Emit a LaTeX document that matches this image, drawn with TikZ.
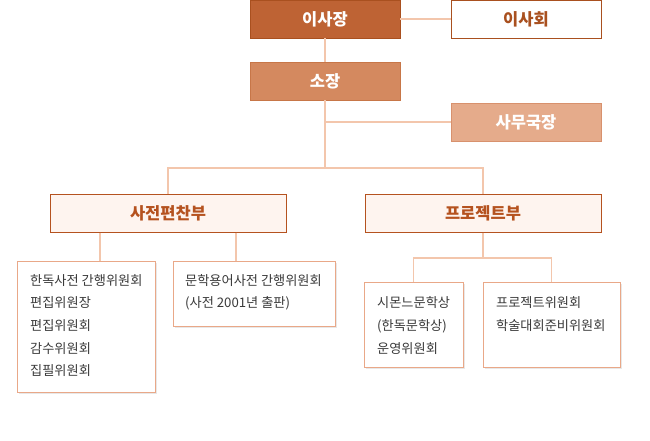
\documentclass[tikz,border=0pt]{standalone}
\usepackage{fontspec}
\setmainfont{Noto Sans CJK KR}
\usetikzlibrary{shadows}
\definecolor{chaircol}{HTML}{BE6334}
\definecolor{chairline}{HTML}{A9501F}
\definecolor{headcol}{HTML}{D4895F}
\definecolor{headline}{HTML}{C77648}
\definecolor{officecol}{HTML}{E5AB8B}
\definecolor{officeline}{HTML}{D8916D}
\definecolor{deptfill}{HTML}{FEF4EF}
\definecolor{deptline}{HTML}{B5521F}
\definecolor{unitline}{HTML}{E9A888}
\definecolor{linkcol}{HTML}{F3C6AC}
\definecolor{textcol}{HTML}{3A3A3A}
\begin{document}
\begin{tikzpicture}[x=1pt, y=-1pt,
    link/.style={draw=linkcol, line width=1.4pt},
    topbox/.style={minimum width=150, minimum height=38, inner sep=0,
      text=white, font=\fontsize{16.5}{19}\selectfont\bfseries},
    deptbox/.style={draw=deptline, fill=deptfill, line width=1pt,
      minimum width=236, minimum height=38, inner sep=0,
      text=deptline, font=\fontsize{16.5}{19}\selectfont\bfseries},
    unitbox/.style={draw=unitline, fill=white, line width=1pt, inner sep=0,
      drop shadow={shadow xshift=2pt, shadow yshift=-2pt, opacity=0.18}},
    unittext/.style={anchor=north west, inner sep=0, align=left,
      text=textcol, font=\fontsize{13.2}{22.7}\selectfont}]
  \useasboundingbox (0,0) rectangle (650,441);

  % Boards
  \node[topbox, draw=chairline, fill=chaircol] (chair) at (325,19) {이사장};
  \node[topbox, draw=chairline, fill=white, text=chairline] (board) at (526,19) {이사회};
  \node[topbox, draw=headline, fill=headcol] (head) at (325,81) {소장};
  \node[topbox, draw=officeline, fill=officecol] (office) at (526,122) {사무국장};

  % Departments
  \node[deptbox] (dict) at (168,213) {사전편찬부};
  \node[deptbox] (proj) at (483,213) {프로젝트부};

  % Units
  \node[unitbox, minimum width=138, minimum height=131] (u1) at (86,326.5) {};
  \node[unitbox, minimum width=162, minimum height=65] (u2) at (254,293.5) {};
  \node[unitbox, minimum width=99, minimum height=85] (u3) at (413.5,324.5) {};
  \node[unitbox, minimum width=137, minimum height=85] (u4) at (551.5,324.5) {};

  \node[unittext] (t1) at (30,274) {한독사전 간행위원회\\편집위원장\\편집위원회\\감수위원회\\집필위원회};
  \node[unittext] (t2) at (185,274) {문학용어사전 간행위원회\\(사전 2001년 출판)};
  \node[unittext] (t3) at (377,296.5) {시몬느문학상\\(한독문학상)\\운영위원회};
  \node[unittext] (t4) at (496,296.5) {프로젝트위원회\\학술대회준비위원회};

  \coordinate (hub) at (325,168);
  \coordinate (c1) at (100,261);
  \coordinate (c2) at (236,261);
  \coordinate (pj) at (483,258);

  \draw[link] (chair) -- (board);
  \draw[link] (chair) -- (head);
  \draw[link] (head) -- (hub);
  \draw[link] (office.west -| hub) -- (office);

  \draw[link] (hub) -| (dict);
  \draw[link] (hub) -| (proj);

  \draw[link] (c1 |- dict.south) -- (c1);
  \draw[link] (c2 |- dict.south) -- (c2);

  \draw[link] (proj) -- (pj);
  \draw[link] (pj) -| (u3);
  \draw[link] (pj) -| (u4);
\end{tikzpicture}
\end{document}
